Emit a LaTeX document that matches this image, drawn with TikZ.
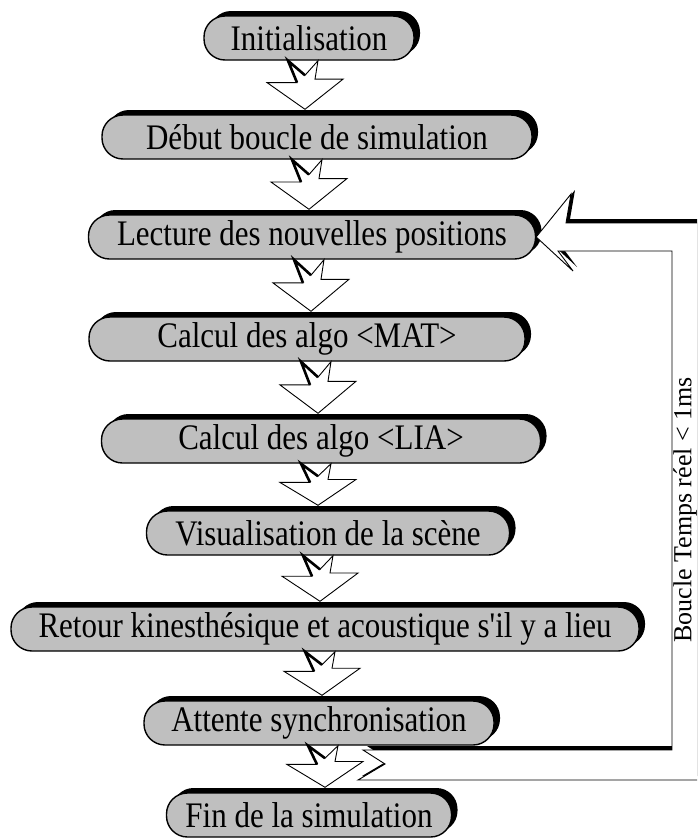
\documentclass[tikz,border=0pt]{standalone}
\usepackage{fontspec}
\usepackage{graphicx}
\setmainfont{Liberation Serif}
\usetikzlibrary{calc,shadows}
\newcommand\flowarrow[3]{%
  \coordinate (fax) at (#3,0);
  \path let \p1=(fax |- #1.south), \p2=(fax |- #2.north), \n1={\y1-\y2-5pt} in
    [fill=white, draw=black, line width=0.9pt, line join=miter]
    ({\x1-17pt},\y1) -- (\x1,{\y1-0.3*\n1}) -- ({\x1+13pt},\y1) -- ({\x1+10pt},{\y1-0.38*\n1})
    -- ({\x1+38pt},{\y1-0.38*\n1}) -- (\x1,{\y2+5pt}) -- ({\x1-38pt},{\y1-0.45*\n1})
    -- ({\x1-8pt},{\y1-0.45*\n1}) -- cycle;
  \path let \p1=(fax |- #1.south), \p2=(fax |- #2.north), \n1={\y1-\y2-5pt} in
    [draw=black, line width=2.6pt, line join=miter]
    (\x1,{\y1-0.3*\n1}) -- ({\x1-17pt},\y1) -- ({\x1-8pt},{\y1-0.45*\n1});
}
\newcommand\bt[1]{\scalebox{1}[1.16]{#1}}
\newcommand\sq{{\addfontfeature{Ligatures=TeXOff}'}}
\begin{document}
\begin{tikzpicture}[x=1pt,y=-1pt,
  flowbox/.style={draw=black, line width=1.4pt, fill=black!25, rectangle,
    rounded corners=21pt, minimum height=44pt, inner sep=0pt,
    font=\fontsize{31}{33}\selectfont,
    general shadow={fill=black, shadow xshift=6pt, shadow yshift=5pt}},
  looplabel/.style={rotate=90, font=\fontsize{26}{28}\selectfont, inner sep=0pt}]
\useasboundingbox (0,0) rectangle (697,838);
\clip (0,0) rectangle (697,838);
\fill[white] (0,0) rectangle (697,838);

% boxes
\node[flowbox, minimum width=210pt] (init) at (309,38) {\bt{Initialisation}};
\node[flowbox, minimum width=430pt] (debut) at (317,137) {\bt{Début boucle de simulation}};
\node[flowbox, minimum width=447pt] (lect) at (312,237) {\bt{Lecture des nouvelles positions}};
\node[flowbox, minimum width=436pt] (mat) at (307,339) {\bt{Calcul des algo <MAT>}};
\node[flowbox, minimum width=439pt] (lia) at (321,441) {\bt{Calcul des algo <LIA>}};
\node[flowbox, minimum width=363pt] (visu) at (328,533) {\bt{Visualisation de la scène}};
\node[flowbox, minimum width=628pt] (retour) at (325,629) {\bt{Retour kinesthésique et acoustique s\sq il y a lieu}};
\node[flowbox, minimum width=350pt] (att) at (319,723) {\bt{Attente synchronisation}};
\node[flowbox, minimum width=285pt] (fin) at (309,815) {\bt{Fin de la simulation}};

% loop arrow
\def\looppath{(lect.east) -- (571,194) -- (566,223) -- (712,223) -- (712,780) -- (358,780)
  -- (385,764) -- (363,750) -- (672,750) -- (672,251) -- (558,251) -- (573,271) -- cycle}
\begin{scope}[transform canvas={shift={(4pt,4pt)}}]
  \fill[black] \looppath;
\end{scope}
\filldraw[fill=white, draw=black, line width=0.9pt, line join=miter] \looppath;

% flow arrows
\flowarrow{init}{debut}{305}
\flowarrow{debut}{lect}{309}
\flowarrow{lect}{mat}{311}
\flowarrow{mat}{lia}{318}
\flowarrow{lia}{visu}{318}
\flowarrow{visu}{retour}{320}
\flowarrow{retour}{att}{322}
\flowarrow{att}{fin}{325}

\node[looplabel] (lbl) at (685,510) {Boucle Temps réel < 1ms};
\end{tikzpicture}
\end{document}
